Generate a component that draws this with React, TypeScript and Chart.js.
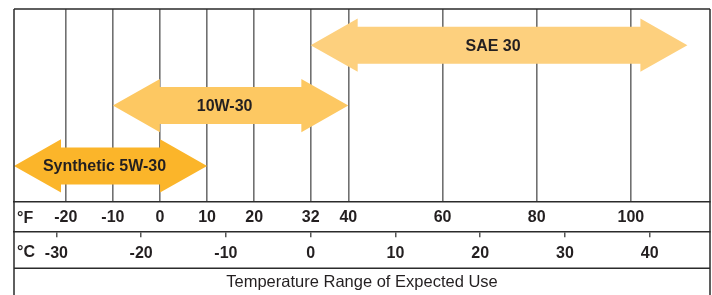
import React, { useEffect, useRef } from "react";
import { Chart, registerables } from "chart.js";

Chart.register(...registerables);

// ---- data ----
const oilGrades = ["SAE 30", "10W-30", "Synthetic 5W-30"];
const gradeRows = [0, 1, 2];
const rangeStartF = [32, -10, -31];
const rangeEndF = [112, 40, 10];
const gradeColors = ["#FDD07E", "#FDC862", "#FBB52A"];
const fahrenheitTicks = [-20, -10, 0, 10, 20, 32, 40, 60, 80, 100];
const celsiusTicks = [-30, -20, -10, 0, 10, 20, 30, 40];
const axisMinF = -31;
const axisMaxF = 116.8;
const axisTitle = "Temperature Range of Expected Use";

const fToC = (f: number) => ((f - 32) * 5) / 9;

const FONT = "'Liberation Sans', Arial, sans-serif";
const INK = "#231F20";

const arrowPlugin = {
  id: "arrows",
  afterDatasetsDraw(chart: any) {
    const ctx = chart.ctx;
    const meta = chart.getDatasetMeta(0);
    meta.data.forEach((el: any, i: number) => {
      const props = el.getProps(["x", "y", "base", "height"], true);
      const x0 = Math.min(props.x, props.base);
      const x1 = Math.max(props.x, props.base);
      const y = props.y;
      const h = props.height / 2;
      const H = h * 1.44;
      const L = 47;
      ctx.save();
      ctx.fillStyle = gradeColors[i];
      ctx.beginPath();
      ctx.moveTo(x0, y);
      ctx.lineTo(x0 + L, y - H);
      ctx.lineTo(x0 + L, y - h);
      ctx.lineTo(x1 - L, y - h);
      ctx.lineTo(x1 - L, y - H);
      ctx.lineTo(x1, y);
      ctx.lineTo(x1 - L, y + H);
      ctx.lineTo(x1 - L, y + h);
      ctx.lineTo(x0 + L, y + h);
      ctx.lineTo(x0 + L, y + H);
      ctx.closePath();
      ctx.fill();
      ctx.fillStyle = INK;
      ctx.font = `bold 16px ${FONT}`;
      ctx.textAlign = "center";
      ctx.textBaseline = "middle";
      ctx.fillText(oilGrades[i], (x0 + x1) / 2 - 6, y + 1);
      ctx.restore();
    });
  },
};

const framePlugin = {
  id: "frame",
  afterDraw(chart: any) {
    const ctx = chart.ctx;
    const area = chart.chartArea;
    const xs = chart.scales.x;
    const xc = chart.scales.xc;
    ctx.save();
    ctx.strokeStyle = "#2b2b2b";
    ctx.lineWidth = 1.5;
    ctx.beginPath();
    ctx.moveTo(area.left, area.top);
    ctx.lineTo(area.right, area.top);
    ctx.moveTo(area.left, area.top);
    ctx.lineTo(area.left, chart.height);
    ctx.moveTo(area.right, area.top);
    ctx.lineTo(area.right, chart.height);
    ctx.moveTo(area.left, xc.bottom);
    ctx.lineTo(area.right, xc.bottom);
    ctx.stroke();
    // unit labels
    ctx.fillStyle = INK;
    ctx.font = `bold 16px ${FONT}`;
    ctx.textAlign = "left";
    ctx.textBaseline = "middle";
    ctx.fillText("°F", area.left + 3, (xs.top + xs.bottom) / 2 + 1);
    ctx.fillText("°C", area.left + 3, (xc.top + xc.bottom) / 2 + 2);
    ctx.restore();
  },
};

export default function App() {
  const ref = useRef<HTMLCanvasElement | null>(null);

  useEffect(() => {
    if (!ref.current) return;
    const chart = new Chart(ref.current, {
      type: "bar",
      data: {
        labels: oilGrades,
        datasets: [
          {
            label: "Range",
            data: gradeRows.map((r, i) => ({ y: r, x: [rangeStartF[i], rangeEndF[i]] })) as any,
            backgroundColor: "rgba(0,0,0,0)",
            borderWidth: 0,
            barThickness: 37,
          },
        ],
      },
      options: {
        indexAxis: "y",
        responsive: false,
        animation: false,
        layout: { padding: { left: 14, right: 2, top: 9, bottom: 0 } },
        plugins: {
          legend: { display: false },
          tooltip: { enabled: false },
          title: {
            display: true,
            position: "bottom",
            text: axisTitle,
            color: INK,
            font: { family: FONT, size: 16.5, weight: "normal", lineHeight: 1.2 },
            padding: { top: 4, bottom: 3 },
          },
        },
        scales: {
          y: { type: "linear", display: false, offset: false, min: -0.6, max: 2.6, reverse: true },
          x: {
            type: "linear",
            position: "bottom",
            min: axisMinF,
            max: axisMaxF,
            weight: 0,
            afterBuildTicks: (scale: any) => {
              scale.ticks = fahrenheitTicks.map((v) => ({ value: v }));
            },
            afterFit: (scale: any) => {
              scale.height = 30;
            },
            grid: {
              drawOnChartArea: true,
              drawTicks: false,
              color: "#707070",
              lineWidth: 1.6,
            },
            border: { display: true, color: "#2b2b2b", width: 1.5 },
            ticks: {
              autoSkip: false,
              maxRotation: 0,
              padding: 6,
              color: INK,
              font: { family: FONT, size: 16, weight: "bold" },
              callback: (v: any) => String(v),
            },
          },
          xc: {
            type: "linear",
            position: "bottom",
            min: fToC(axisMinF),
            max: fToC(axisMaxF),
            weight: 1,
            afterBuildTicks: (scale: any) => {
              scale.ticks = celsiusTicks.map((v) => ({ value: v }));
            },
            afterFit: (scale: any) => {
              scale.height = 36;
            },
            grid: {
              drawOnChartArea: false,
              drawTicks: true,
              tickLength: 5,
              color: "#555",
              lineWidth: 1.5,
            },
            border: { display: true, color: "#2b2b2b", width: 1.5 },
            ticks: {
              autoSkip: false,
              maxRotation: 0,
              padding: 7,
              color: INK,
              font: { family: FONT, size: 16, weight: "bold" },
              callback: (v: any) => String(v),
            },
          },
        },
      } as any,
      plugins: [arrowPlugin, framePlugin],
    });
    return () => chart.destroy();
  }, []);

  return (
    <div style={{ position: "fixed", left: 0, top: 0, width: 712, height: 295, background: "#fff" }}>
      <canvas ref={ref} width={712} height={295} style={{ display: "block" }} />
    </div>
  );
}
